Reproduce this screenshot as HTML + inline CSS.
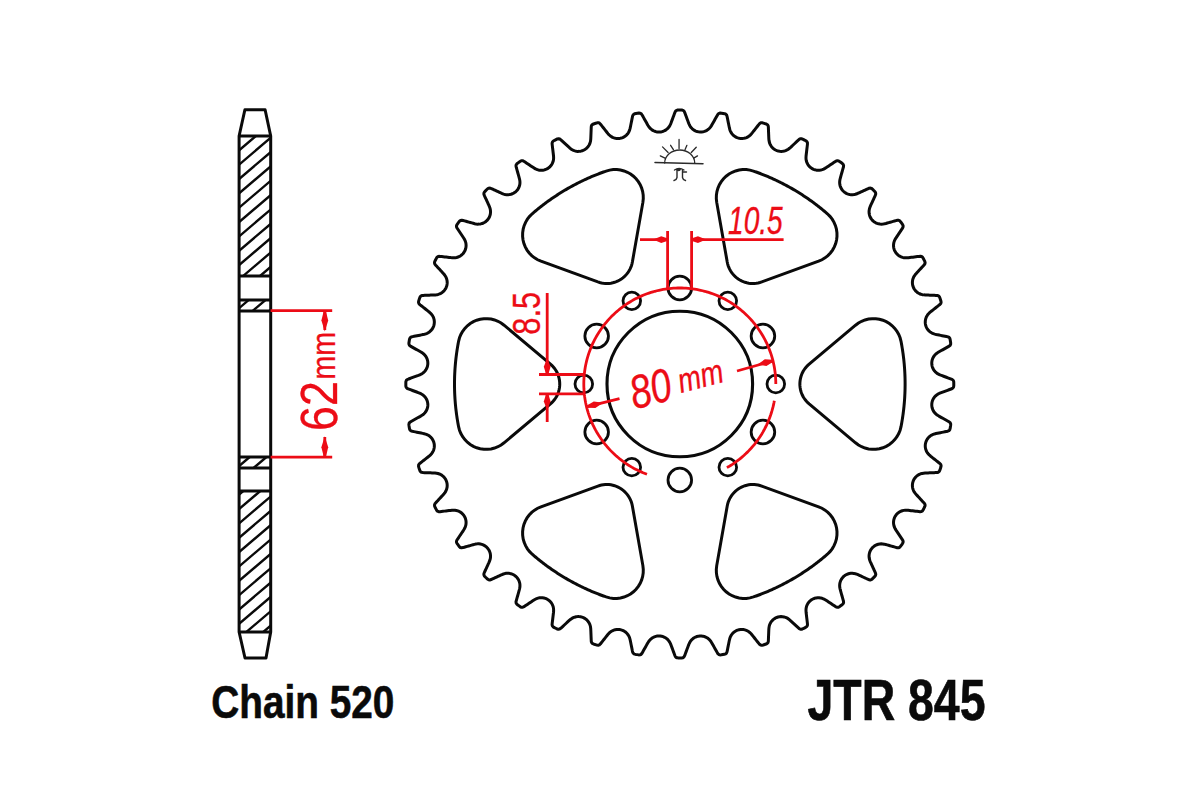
<!DOCTYPE html>
<html><head><meta charset="utf-8"><style>
html,body{margin:0;padding:0;background:#fff;}
body{width:1200px;height:800px;overflow:hidden;position:relative;font-family:"Liberation Sans",sans-serif;}
svg{position:absolute;left:0;top:0;}
</style></head><body>
<svg width="1200" height="800" viewBox="0 0 1200 800">
<defs>
<clipPath id="hc1"><rect x="239.1" y="136" width="31.599999999999994" height="140"/><rect x="239.1" y="300" width="31.599999999999994" height="11"/><rect x="239.1" y="457" width="31.599999999999994" height="11"/><rect x="239.1" y="491" width="31.599999999999994" height="141"/></clipPath>
</defs>
<rect width="1200" height="800" fill="#fff"/>
<g fill="#0a0a0a" stroke="#0a0a0a" stroke-width="0.6" font-family="Liberation Sans" font-weight="bold">
<text transform="translate(211.2,717.8) scale(0.832,1)" font-size="46.6">Chain 520</text>
<text transform="translate(807.5,719.6) scale(0.80,1)" font-size="58">JTR 845</text>
</g>
<!-- side profile -->
<path d="M229.1,-357.82L280.7,-401.74 M229.1,-343.47L280.7,-387.39 M229.1,-329.12L280.7,-373.04 M229.1,-314.77L280.7,-358.69 M229.1,-300.42L280.7,-344.34 M229.1,-286.07L280.7,-329.99 M229.1,-271.72L280.7,-315.64 M229.1,-257.37L280.7,-301.29 M229.1,-243.02L280.7,-286.94 M229.1,-228.67L280.7,-272.59 M229.1,-214.32L280.7,-258.24 M229.1,-199.97L280.7,-243.89 M229.1,-185.62L280.7,-229.54 M229.1,-171.27L280.7,-215.19 M229.1,-156.92L280.7,-200.84 M229.1,-142.57L280.7,-186.49 M229.1,-128.22L280.7,-172.14 M229.1,-113.87L280.7,-157.79 M229.1,-99.52L280.7,-143.44 M229.1,-85.17L280.7,-129.09 M229.1,-70.82L280.7,-114.74 M229.1,-56.47L280.7,-100.39 M229.1,-42.12L280.7,-86.04 M229.1,-27.77L280.7,-71.69 M229.1,-13.42L280.7,-57.34 M229.1,0.93L280.7,-42.99 M229.1,15.28L280.7,-28.64 M229.1,29.63L280.7,-14.29 M229.1,43.98L280.7,0.06 M229.1,58.33L280.7,14.41 M229.1,72.68L280.7,28.76 M229.1,87.03L280.7,43.11 M229.1,101.38L280.7,57.46 M229.1,115.73L280.7,71.81 M229.1,130.08L280.7,86.16 M229.1,144.43L280.7,100.51 M229.1,158.78L280.7,114.86 M229.1,173.13L280.7,129.21 M229.1,187.48L280.7,143.56 M229.1,201.83L280.7,157.91 M229.1,216.18L280.7,172.26 M229.1,230.53L280.7,186.61 M229.1,244.88L280.7,200.96 M229.1,259.23L280.7,215.31 M229.1,273.58L280.7,229.66 M229.1,287.93L280.7,244.01 M229.1,302.28L280.7,258.36 M229.1,316.63L280.7,272.71 M229.1,330.98L280.7,287.06 M229.1,345.33L280.7,301.41 M229.1,359.68L280.7,315.76 M229.1,374.03L280.7,330.11 M229.1,388.38L280.7,344.46 M229.1,402.73L280.7,358.81 M229.1,417.08L280.7,373.16 M229.1,431.43L280.7,387.51 M229.1,445.78L280.7,401.86 M229.1,460.13L280.7,416.21 M229.1,474.48L280.7,430.56 M229.1,488.83L280.7,444.91 M229.1,503.18L280.7,459.26 M229.1,517.53L280.7,473.61 M229.1,531.88L280.7,487.96 M229.1,546.23L280.7,502.31 M229.1,560.58L280.7,516.66 M229.1,574.93L280.7,531.01 M229.1,589.28L280.7,545.36 M229.1,603.63L280.7,559.71 M229.1,617.98L280.7,574.06 M229.1,632.33L280.7,588.41 M229.1,646.68L280.7,602.76 M229.1,661.03L280.7,617.11 M229.1,675.38L280.7,631.46 M229.1,689.73L280.7,645.81 M229.1,704.08L280.7,660.16 M229.1,718.43L280.7,674.51 M229.1,732.78L280.7,688.86 M229.1,747.13L280.7,703.21 M229.1,761.48L280.7,717.56 M229.1,775.83L280.7,731.91" stroke="#0a0a0a" stroke-width="2.4" fill="none" clip-path="url(#hc1)"/>
<path d="M244.90,109.75 L265.10,109.75 L270.70,136.00 L270.70,632.00 L266.00,658.00 L245.00,658.00 L239.10,632.00 L239.10,136.00Z" stroke="#0a0a0a" stroke-width="3.0" fill="none" stroke-linejoin="round"/>
<path d="M239.1,136H270.7 M239.1,276H270.7 M239.1,300H270.7 M239.1,311H270.7 M239.1,457H270.7 M239.1,468H270.7 M239.1,491H270.7 M239.1,632H270.7" stroke="#0a0a0a" stroke-width="2.8" fill="none"/>
<!-- gear -->
<path d="M676.16,110.55 L675.32,111.49 L674.76,112.84 L674.24,114.25 L673.72,115.66 L673.20,117.06 L672.68,118.47 L672.16,119.88 L671.64,121.29 L671.12,122.69 L670.56,124.08 L669.92,125.43 L669.15,126.71 L668.23,127.88 L667.18,128.94 L666.00,129.86 L664.73,130.63 L663.37,131.24 L661.95,131.68 L660.48,131.95 L658.99,132.04 L657.51,131.95 L656.04,131.68 L654.62,131.24 L653.26,130.62 L651.98,129.85 L650.81,128.93 L649.76,127.87 L648.84,126.70 L648.02,125.45 L647.27,124.15 L646.54,122.84 L645.80,121.53 L645.07,120.22 L644.33,118.92 L643.60,117.61 L642.87,116.30 L642.13,114.99 L641.32,113.84 L640.26,113.21 L638.95,113.09 L637.47,113.32 L635.99,113.55 L634.55,113.83 L633.45,114.47 L632.76,115.51 L632.41,116.93 L632.12,118.40 L631.82,119.88 L631.53,121.35 L631.24,122.82 L630.94,124.29 L630.65,125.76 L630.35,127.23 L630.02,128.69 L629.61,130.13 L629.05,131.51 L628.33,132.81 L627.46,134.02 L626.44,135.12 L625.31,136.08 L624.06,136.90 L622.73,137.57 L621.33,138.07 L619.87,138.39 L618.39,138.54 L616.90,138.51 L615.42,138.29 L613.98,137.90 L612.60,137.34 L611.30,136.62 L610.09,135.75 L608.99,134.74 L607.99,133.63 L607.04,132.47 L606.11,131.29 L605.18,130.11 L604.26,128.93 L603.33,127.76 L602.40,126.58 L601.47,125.40 L600.54,124.22 L599.56,123.21 L598.42,122.73 L597.11,122.81 L595.69,123.26 L594.26,123.72 L592.88,124.22 L591.88,125.01 L591.34,126.15 L591.22,127.60 L591.16,129.10 L591.10,130.59 L591.04,132.09 L590.98,133.59 L590.92,135.09 L590.86,136.59 L590.80,138.09 L590.70,139.58 L590.52,141.07 L590.18,142.52 L589.68,143.92 L589.01,145.26 L588.19,146.50 L587.22,147.63 L586.12,148.64 L584.91,149.51 L583.61,150.23 L582.22,150.78 L580.78,151.16 L579.31,151.37 L577.82,151.39 L576.33,151.24 L574.88,150.90 L573.48,150.40 L572.15,149.73 L570.90,148.90 L569.74,147.97 L568.62,146.97 L567.52,145.95 L566.41,144.94 L565.31,143.92 L564.21,142.90 L563.11,141.88 L562.01,140.86 L560.90,139.85 L559.78,138.99 L558.58,138.68 L557.30,138.95 L555.97,139.61 L554.63,140.29 L553.34,141.00 L552.47,141.93 L552.10,143.13 L552.19,144.57 L552.37,146.06 L552.54,147.55 L552.72,149.04 L552.90,150.53 L553.07,152.02 L553.25,153.51 L553.42,155.00 L553.56,156.49 L553.61,157.99 L553.52,159.48 L553.24,160.94 L552.80,162.36 L552.18,163.72 L551.41,164.99 L550.48,166.16 L549.43,167.22 L548.25,168.13 L546.97,168.90 L545.61,169.50 L544.19,169.94 L542.72,170.21 L541.23,170.29 L539.74,170.19 L538.28,169.92 L536.86,169.47 L535.50,168.85 L534.20,168.11 L532.94,167.30 L531.69,166.47 L530.44,165.64 L529.20,164.80 L527.95,163.97 L526.70,163.14 L525.45,162.31 L524.20,161.47 L522.96,160.79 L521.73,160.66 L520.50,161.11 L519.29,161.97 L518.08,162.85 L516.90,163.75 L516.18,164.80 L515.99,166.04 L516.30,167.45 L516.71,168.89 L517.11,170.34 L517.52,171.78 L517.93,173.22 L518.33,174.67 L518.74,176.11 L519.14,177.56 L519.52,179.01 L519.80,180.47 L519.95,181.96 L519.91,183.45 L519.70,184.92 L519.31,186.36 L518.74,187.74 L518.02,189.04 L517.14,190.25 L516.13,191.34 L514.99,192.30 L513.74,193.12 L512.41,193.78 L511.00,194.27 L509.54,194.59 L508.06,194.73 L506.57,194.69 L505.09,194.48 L503.66,194.09 L502.26,193.56 L500.88,192.96 L499.52,192.33 L498.16,191.71 L496.79,191.08 L495.43,190.45 L494.07,189.82 L492.71,189.20 L491.34,188.57 L490.01,188.08 L488.77,188.13 L487.62,188.75 L486.56,189.79 L485.50,190.85 L484.48,191.92 L483.91,193.06 L483.90,194.31 L484.42,195.66 L485.05,197.02 L485.68,198.38 L486.30,199.74 L486.93,201.11 L487.56,202.47 L488.18,203.83 L488.81,205.20 L489.41,206.57 L489.92,207.97 L490.30,209.42 L490.50,210.89 L490.53,212.38 L490.37,213.87 L490.04,215.32 L489.53,216.72 L488.86,218.05 L488.03,219.29 L487.06,220.42 L485.95,221.42 L484.74,222.29 L483.43,223.00 L482.04,223.55 L480.60,223.92 L479.13,224.12 L477.63,224.14 L476.15,223.99 L474.69,223.69 L473.24,223.31 L471.79,222.90 L470.35,222.50 L468.90,222.09 L467.46,221.69 L466.02,221.28 L464.57,220.87 L463.13,220.47 L461.73,220.19 L460.51,220.42 L459.47,221.19 L458.58,222.38 L457.70,223.59 L456.85,224.81 L456.45,226.03 L456.63,227.26 L457.34,228.51 L458.18,229.76 L459.01,231.00 L459.84,232.25 L460.67,233.50 L461.51,234.75 L462.34,235.99 L463.17,237.24 L463.98,238.51 L464.71,239.81 L465.31,241.17 L465.75,242.60 L466.01,244.07 L466.09,245.56 L465.99,247.04 L465.71,248.51 L465.26,249.93 L464.64,251.28 L463.86,252.55 L462.93,253.72 L461.87,254.77 L460.69,255.68 L459.41,256.44 L458.05,257.04 L456.62,257.47 L455.15,257.73 L453.66,257.81 L452.17,257.75 L450.68,257.61 L449.19,257.43 L447.70,257.26 L446.21,257.08 L444.72,256.91 L443.23,256.73 L441.74,256.55 L440.25,256.38 L438.82,256.31 L437.64,256.72 L436.73,257.63 L436.04,258.94 L435.36,260.28 L434.70,261.61 L434.49,262.88 L434.84,264.08 L435.73,265.20 L436.75,266.30 L437.77,267.40 L438.78,268.50 L439.80,269.60 L440.82,270.71 L441.84,271.81 L442.85,272.91 L443.85,274.03 L444.78,275.20 L445.59,276.45 L446.25,277.79 L446.74,279.20 L447.06,280.66 L447.20,282.14 L447.16,283.63 L446.94,285.10 L446.54,286.54 L445.97,287.92 L445.24,289.22 L444.36,290.42 L443.34,291.51 L442.20,292.46 L440.95,293.28 L439.61,293.93 L438.20,294.42 L436.75,294.74 L435.26,294.91 L433.76,295.00 L432.27,295.06 L430.77,295.12 L429.27,295.18 L427.77,295.24 L426.27,295.30 L424.77,295.36 L423.27,295.42 L421.84,295.57 L420.73,296.15 L419.97,297.18 L419.49,298.58 L419.02,300.00 L418.58,301.42 L418.56,302.72 L419.08,303.85 L420.12,304.82 L421.30,305.74 L422.48,306.67 L423.65,307.60 L424.83,308.53 L426.01,309.46 L427.19,310.39 L428.36,311.32 L429.52,312.27 L430.63,313.28 L431.63,314.39 L432.49,315.60 L433.20,316.91 L433.74,318.30 L434.12,319.74 L434.32,321.22 L434.33,322.71 L434.17,324.19 L433.83,325.64 L433.32,327.04 L432.64,328.37 L431.81,329.61 L430.83,330.73 L429.73,331.73 L428.51,332.59 L427.20,333.30 L425.81,333.85 L424.37,334.25 L422.91,334.58 L421.44,334.88 L419.97,335.17 L418.50,335.46 L417.02,335.76 L415.55,336.05 L414.08,336.34 L412.61,336.64 L411.22,337.00 L410.20,337.73 L409.60,338.86 L409.33,340.31 L409.10,341.80 L408.88,343.27 L409.05,344.56 L409.72,345.60 L410.90,346.39 L412.21,347.13 L413.52,347.86 L414.82,348.60 L416.13,349.33 L417.44,350.06 L418.75,350.80 L420.06,351.53 L421.35,352.29 L422.60,353.11 L423.76,354.04 L424.81,355.11 L425.72,356.29 L426.48,357.57 L427.08,358.93 L427.51,360.36 L427.76,361.83 L427.84,363.32 L427.74,364.80 L427.45,366.27 L427.00,367.69 L426.37,369.04 L425.59,370.31 L424.65,371.47 L423.59,372.51 L422.41,373.42 L421.12,374.18 L419.77,374.81 L418.38,375.36 L416.97,375.88 L415.56,376.40 L414.15,376.92 L412.75,377.44 L411.34,377.96 L409.93,378.48 L408.53,379.00 L407.20,379.58 L406.30,380.45 L405.87,381.65 L405.83,383.12 L405.83,384.62 L405.84,386.12 L406.19,387.37 L407.01,388.30 L408.29,388.91 L409.70,389.43 L411.11,389.95 L412.51,390.47 L413.92,390.99 L415.33,391.51 L416.73,392.03 L418.14,392.55 L419.54,393.09 L420.90,393.71 L422.20,394.44 L423.40,395.33 L424.49,396.35 L425.44,397.49 L426.25,398.74 L426.90,400.08 L427.39,401.49 L427.70,402.95 L427.84,404.43 L427.79,405.92 L427.56,407.40 L427.16,408.83 L426.59,410.21 L425.86,411.51 L424.97,412.71 L423.95,413.79 L422.80,414.74 L421.56,415.58 L420.27,416.35 L418.97,417.08 L417.66,417.81 L416.35,418.55 L415.04,419.28 L413.73,420.02 L412.43,420.75 L411.12,421.48 L409.89,422.25 L409.12,423.25 L408.87,424.50 L409.06,425.96 L409.29,427.44 L409.54,428.91 L410.07,430.11 L411.02,430.91 L412.37,431.32 L413.84,431.61 L415.31,431.90 L416.78,432.20 L418.25,432.49 L419.72,432.78 L421.19,433.08 L422.66,433.37 L424.13,433.69 L425.57,434.08 L426.97,434.60 L428.30,435.28 L429.53,436.11 L430.66,437.09 L431.66,438.20 L432.51,439.42 L433.22,440.73 L433.76,442.12 L434.13,443.56 L434.32,445.04 L434.33,446.53 L434.16,448.01 L433.82,449.46 L433.30,450.86 L432.62,452.18 L431.78,453.42 L430.80,454.54 L429.71,455.56 L428.56,456.52 L427.38,457.45 L426.21,458.38 L425.03,459.31 L423.85,460.24 L422.67,461.17 L421.50,462.10 L420.32,463.03 L419.21,463.98 L418.60,465.08 L418.54,466.35 L418.94,467.76 L419.41,469.18 L419.88,470.61 L420.58,471.71 L421.63,472.37 L423.02,472.57 L424.52,472.63 L426.02,472.69 L427.52,472.75 L429.02,472.81 L430.52,472.87 L432.02,472.93 L433.51,472.99 L435.01,473.07 L436.50,473.23 L437.96,473.52 L439.38,473.98 L440.73,474.60 L442.00,475.39 L443.16,476.32 L444.20,477.39 L445.11,478.57 L445.86,479.86 L446.46,481.23 L446.88,482.65 L447.13,484.12 L447.20,485.61 L447.09,487.10 L446.80,488.56 L446.34,489.98 L445.71,491.33 L444.92,492.59 L444.01,493.78 L443.02,494.90 L442.01,496.01 L440.99,497.11 L439.97,498.21 L438.95,499.31 L437.94,500.42 L436.92,501.52 L435.90,502.62 L434.95,503.73 L434.50,504.91 L434.62,506.17 L435.24,507.50 L435.92,508.84 L436.60,510.17 L437.47,511.17 L438.60,511.66 L440.00,511.65 L441.49,511.47 L442.98,511.30 L444.47,511.12 L445.96,510.95 L447.45,510.77 L448.94,510.60 L450.43,510.42 L451.92,510.27 L453.42,510.19 L454.91,510.24 L456.38,510.47 L457.81,510.87 L459.19,511.45 L460.49,512.18 L461.68,513.07 L462.77,514.10 L463.72,515.24 L464.52,516.50 L465.17,517.84 L465.65,519.25 L465.96,520.71 L466.08,522.20 L466.03,523.68 L465.80,525.16 L465.40,526.59 L464.82,527.97 L464.11,529.28 L463.31,530.55 L462.48,531.80 L461.65,533.04 L460.81,534.29 L459.98,535.54 L459.15,536.79 L458.31,538.04 L457.48,539.28 L456.71,540.53 L456.44,541.77 L456.74,542.99 L457.55,544.21 L458.43,545.42 L459.31,546.63 L460.32,547.50 L461.51,547.82 L462.89,547.60 L464.33,547.20 L465.77,546.79 L467.22,546.38 L468.66,545.98 L470.11,545.57 L471.55,545.16 L472.99,544.76 L474.44,544.37 L475.91,544.06 L477.39,543.87 L478.88,543.86 L480.36,544.03 L481.81,544.38 L483.20,544.90 L484.53,545.58 L485.76,546.42 L486.88,547.41 L487.88,548.52 L488.73,549.74 L489.43,551.05 L489.96,552.44 L490.33,553.89 L490.51,555.37 L490.52,556.86 L490.35,558.34 L490.00,559.79 L489.50,561.20 L488.91,562.58 L488.29,563.94 L487.66,565.30 L487.04,566.67 L486.41,568.03 L485.78,569.39 L485.15,570.75 L484.53,572.12 L483.95,573.47 L483.87,574.73 L484.34,575.90 L485.32,576.98 L486.38,578.04 L487.44,579.10 L488.57,579.81 L489.79,579.95 L491.12,579.54 L492.48,578.91 L493.84,578.28 L495.20,577.65 L496.57,577.03 L497.93,576.40 L499.29,575.77 L500.65,575.14 L502.02,574.54 L503.42,573.99 L504.85,573.58 L506.32,573.33 L507.81,573.26 L509.30,573.37 L510.76,573.66 L512.17,574.13 L513.52,574.76 L514.79,575.55 L515.95,576.49 L516.98,577.56 L517.88,578.75 L518.63,580.03 L519.22,581.40 L519.64,582.83 L519.89,584.30 L519.95,585.79 L519.84,587.28 L519.57,588.75 L519.21,590.20 L518.81,591.65 L518.40,593.09 L517.99,594.54 L517.59,595.98 L517.18,597.42 L516.77,598.87 L516.37,600.31 L516.01,601.74 L516.11,603.01 L516.74,604.09 L517.87,605.00 L519.09,605.88 L520.30,606.76 L521.52,607.30 L522.75,607.27 L524.00,606.67 L525.24,605.83 L526.49,605.00 L527.74,604.17 L528.99,603.33 L530.23,602.50 L531.48,601.67 L532.73,600.84 L533.99,600.02 L535.28,599.26 L536.63,598.63 L538.04,598.15 L539.50,597.84 L540.98,597.72 L542.47,597.77 L543.94,598.00 L545.38,598.41 L546.75,598.99 L548.04,599.73 L549.24,600.62 L550.32,601.65 L551.26,602.80 L552.06,604.06 L552.71,605.40 L553.18,606.82 L553.48,608.28 L553.61,609.76 L553.58,611.26 L553.45,612.75 L553.28,614.24 L553.10,615.73 L552.93,617.22 L552.75,618.71 L552.57,620.20 L552.40,621.69 L552.22,623.18 L552.09,624.65 L552.37,625.89 L553.16,626.87 L554.41,627.59 L555.74,628.27 L557.08,628.96 L558.37,629.31 L559.58,629.10 L560.72,628.32 L561.82,627.31 L562.92,626.29 L564.03,625.27 L565.13,624.25 L566.23,623.23 L567.33,622.22 L568.43,621.20 L569.55,620.20 L570.70,619.25 L571.93,618.40 L573.25,617.70 L574.64,617.17 L576.09,616.81 L577.57,616.62 L579.06,616.62 L580.54,616.79 L581.99,617.15 L583.38,617.67 L584.70,618.36 L585.93,619.20 L587.05,620.19 L588.04,621.30 L588.89,622.53 L589.58,623.85 L590.11,625.24 L590.47,626.69 L590.68,628.17 L590.78,629.66 L590.85,631.16 L590.91,632.66 L590.97,634.16 L591.03,635.66 L591.09,637.15 L591.15,638.65 L591.21,640.15 L591.30,641.63 L591.76,642.82 L592.68,643.67 L594.02,644.20 L595.45,644.66 L596.87,645.13 L598.21,645.29 L599.38,644.90 L600.38,643.97 L601.31,642.80 L602.24,641.62 L603.17,640.44 L604.10,639.26 L605.03,638.09 L605.96,636.91 L606.89,635.73 L607.83,634.56 L608.82,633.44 L609.90,632.41 L611.09,631.51 L612.38,630.76 L613.75,630.18 L615.18,629.76 L616.65,629.52 L618.14,629.45 L619.62,629.57 L621.09,629.87 L622.50,630.34 L623.85,630.97 L625.11,631.77 L626.26,632.71 L627.30,633.79 L628.19,634.98 L628.94,636.27 L629.52,637.64 L629.96,639.07 L630.30,640.52 L630.60,641.99 L630.90,643.47 L631.19,644.94 L631.48,646.41 L631.78,647.88 L632.07,649.35 L632.36,650.82 L632.68,652.27 L633.31,653.38 L634.34,654.09 L635.74,654.41 L637.23,654.64 L638.71,654.88 L640.06,654.84 L641.16,654.29 L642.01,653.23 L642.74,651.92 L643.48,650.61 L644.21,649.30 L644.95,647.99 L645.68,646.69 L646.41,645.38 L647.15,644.07 L647.89,642.77 L648.70,641.51 L649.60,640.32 L650.63,639.24 L651.78,638.30 L653.04,637.50 L654.39,636.86 L655.80,636.38 L657.26,636.08 L658.74,635.96 L660.23,636.02 L661.70,636.26 L663.14,636.67 L664.51,637.26 L665.80,638.00 L666.99,638.90 L668.06,639.93 L669.01,641.09 L669.80,642.35 L670.46,643.69 L671.03,645.07 L671.55,646.48 L672.07,647.89 L672.59,649.29 L673.11,650.70 L673.63,652.11 L674.15,653.51 L674.67,654.92 L675.21,656.30 L676.00,657.32 L677.12,657.87 L678.55,657.97 L680.05,657.97 L681.55,657.97 L682.89,657.74 L683.90,657.03 L684.58,655.86 L685.10,654.45 L685.62,653.05 L686.14,651.64 L686.66,650.23 L687.18,648.82 L687.70,647.42 L688.22,646.01 L688.75,644.61 L689.35,643.23 L690.05,641.92 L690.89,640.69 L691.88,639.57 L693.00,638.59 L694.22,637.74 L695.54,637.04 L696.93,636.52 L698.38,636.16 L699.86,635.98 L701.35,635.98 L702.83,636.16 L704.28,636.52 L705.67,637.05 L706.99,637.75 L708.22,638.59 L709.33,639.58 L710.32,640.70 L711.18,641.92 L711.96,643.20 L712.70,644.51 L713.43,645.81 L714.16,647.12 L714.90,648.43 L715.63,649.74 L716.37,651.05 L717.10,652.36 L717.85,653.64 L718.78,654.53 L719.96,654.91 L721.39,654.80 L722.87,654.56 L724.35,654.33 L725.64,653.90 L726.54,653.06 L727.04,651.80 L727.34,650.33 L727.63,648.86 L727.92,647.39 L728.22,645.92 L728.51,644.45 L728.80,642.98 L729.10,641.50 L729.40,640.04 L729.77,638.59 L730.25,637.17 L730.89,635.83 L731.69,634.57 L732.63,633.41 L733.71,632.38 L734.90,631.49 L736.19,630.74 L737.56,630.16 L739.00,629.75 L740.47,629.51 L741.96,629.45 L743.44,629.58 L744.90,629.88 L746.32,630.35 L747.66,631.00 L748.92,631.80 L750.07,632.74 L751.12,633.81 L752.09,634.95 L753.02,636.12 L753.95,637.30 L754.88,638.48 L755.81,639.65 L756.74,640.83 L757.67,642.01 L758.60,643.19 L759.53,644.34 L760.59,645.09 L761.82,645.29 L763.20,644.97 L764.63,644.51 L766.05,644.04 L767.28,643.43 L768.04,642.46 L768.35,641.15 L768.41,639.65 L768.47,638.15 L768.53,636.66 L768.59,635.16 L768.65,633.66 L768.71,632.16 L768.77,630.66 L768.84,629.16 L768.98,627.67 L769.23,626.20 L769.65,624.77 L770.23,623.40 L770.98,622.11 L771.88,620.92 L772.91,619.85 L774.07,618.91 L775.33,618.11 L776.68,617.48 L778.09,617.01 L779.55,616.71 L781.04,616.60 L782.53,616.66 L784.00,616.91 L785.43,617.33 L786.80,617.92 L788.09,618.67 L789.29,619.55 L790.43,620.53 L791.53,621.54 L792.63,622.56 L793.74,623.57 L794.84,624.59 L795.94,625.61 L797.04,626.63 L798.15,627.64 L799.25,628.64 L800.41,629.23 L801.65,629.26 L802.97,628.73 L804.30,628.05 L805.64,627.37 L806.76,626.57 L807.38,625.51 L807.49,624.17 L807.32,622.68 L807.14,621.19 L806.97,619.70 L806.79,618.21 L806.62,616.72 L806.44,615.23 L806.27,613.74 L806.10,612.25 L806.00,610.76 L806.02,609.27 L806.20,607.79 L806.56,606.34 L807.09,604.95 L807.79,603.63 L808.64,602.41 L809.63,601.29 L810.75,600.31 L811.98,599.47 L813.30,598.78 L814.69,598.25 L816.14,597.90 L817.62,597.73 L819.11,597.74 L820.59,597.92 L822.04,598.29 L823.43,598.82 L824.76,599.51 L826.03,600.29 L827.29,601.11 L828.53,601.95 L829.78,602.78 L831.03,603.61 L832.28,604.44 L833.52,605.28 L834.77,606.11 L836.02,606.93 L837.26,607.34 L838.49,607.19 L839.70,606.47 L840.92,605.59 L842.13,604.71 L843.13,603.75 L843.59,602.61 L843.50,601.27 L843.10,599.83 L842.69,598.39 L842.28,596.94 L841.88,595.50 L841.47,594.05 L841.06,592.61 L840.66,591.17 L840.26,589.72 L839.92,588.26 L839.70,586.79 L839.65,585.30 L839.77,583.81 L840.08,582.35 L840.55,580.94 L841.20,579.60 L842.00,578.34 L842.95,577.19 L844.03,576.16 L845.22,575.27 L846.52,574.53 L847.89,573.95 L849.32,573.55 L850.80,573.32 L852.29,573.26 L853.77,573.39 L855.23,573.70 L856.65,574.16 L858.03,574.73 L859.40,575.35 L860.76,575.98 L862.12,576.61 L863.49,577.24 L864.85,577.86 L866.21,578.49 L867.58,579.12 L868.94,579.74 L870.23,579.97 L871.42,579.63 L872.51,578.74 L873.57,577.68 L874.63,576.62 L875.48,575.52 L875.77,574.32 L875.49,573.02 L874.87,571.66 L874.24,570.30 L873.61,568.94 L872.98,567.57 L872.36,566.21 L871.73,564.85 L871.10,563.49 L870.48,562.12 L869.92,560.73 L869.47,559.31 L869.18,557.85 L869.06,556.36 L869.13,554.87 L869.37,553.40 L869.80,551.97 L870.39,550.61 L871.14,549.32 L872.04,548.13 L873.08,547.06 L874.24,546.13 L875.50,545.34 L876.85,544.71 L878.27,544.24 L879.73,543.96 L881.22,543.85 L882.71,543.92 L884.18,544.15 L885.64,544.49 L887.09,544.89 L888.53,545.30 L889.97,545.70 L891.42,546.11 L892.86,546.52 L894.31,546.92 L895.75,547.33 L897.19,547.73 L898.51,547.77 L899.64,547.27 L900.58,546.23 L901.46,545.02 L902.34,543.80 L903.02,542.58 L903.14,541.36 L902.67,540.12 L901.84,538.87 L901.01,537.62 L900.18,536.37 L899.34,535.12 L898.51,533.88 L897.68,532.63 L896.84,531.38 L896.02,530.13 L895.24,528.85 L894.57,527.52 L894.05,526.12 L893.70,524.67 L893.53,523.19 L893.54,521.70 L893.73,520.22 L894.09,518.78 L894.63,517.39 L895.33,516.07 L896.18,514.85 L897.18,513.74 L898.30,512.76 L899.54,511.92 L900.86,511.24 L902.26,510.72 L903.71,510.38 L905.19,510.21 L906.68,510.20 L908.18,510.31 L909.67,510.48 L911.16,510.66 L912.65,510.83 L914.14,511.01 L915.63,511.18 L917.12,511.36 L918.60,511.53 L920.09,511.71 L921.41,511.55 L922.45,510.89 L923.22,509.73 L923.90,508.39 L924.58,507.05 L925.08,505.74 L925.01,504.51 L924.38,503.36 L923.36,502.25 L922.34,501.15 L921.32,500.05 L920.31,498.95 L919.29,497.85 L918.27,496.74 L917.25,495.64 L916.24,494.53 L915.27,493.39 L914.40,492.18 L913.66,490.89 L913.09,489.51 L912.68,488.08 L912.45,486.61 L912.40,485.12 L912.53,483.63 L912.84,482.17 L913.32,480.76 L913.97,479.42 L914.78,478.17 L915.73,477.02 L916.81,476.00 L918.01,475.11 L919.31,474.38 L920.69,473.81 L922.12,473.40 L923.59,473.16 L925.09,473.04 L926.58,472.97 L928.08,472.91 L929.58,472.85 L931.08,472.79 L932.58,472.73 L934.08,472.67 L935.58,472.61 L937.08,472.55 L938.36,472.20 L939.29,471.40 L939.88,470.14 L940.35,468.71 L940.81,467.28 L941.10,465.91 L940.86,464.70 L940.06,463.65 L938.89,462.72 L937.71,461.79 L936.53,460.86 L935.36,459.93 L934.18,459.00 L933.00,458.07 L931.82,457.14 L930.65,456.21 L929.52,455.23 L928.46,454.18 L927.52,453.02 L926.74,451.75 L926.11,450.40 L925.65,448.98 L925.36,447.52 L925.25,446.03 L925.32,444.55 L925.58,443.08 L926.00,441.65 L926.60,440.28 L927.36,439.00 L928.26,437.82 L929.30,436.75 L930.47,435.82 L931.74,435.03 L933.09,434.41 L934.50,433.94 L935.96,433.58 L937.43,433.27 L938.90,432.98 L940.37,432.68 L941.84,432.39 L943.31,432.10 L944.78,431.80 L946.25,431.51 L947.72,431.22 L948.94,430.68 L949.75,429.75 L950.15,428.43 L950.38,426.95 L950.62,425.46 L950.70,424.06 L950.28,422.89 L949.35,421.98 L948.05,421.24 L946.74,420.51 L945.43,419.77 L944.12,419.04 L942.81,418.30 L941.50,417.57 L940.20,416.84 L938.89,416.10 L937.62,415.31 L936.40,414.44 L935.30,413.44 L934.32,412.32 L933.48,411.08 L932.80,409.76 L932.29,408.36 L931.94,406.91 L931.78,405.43 L931.79,403.94 L931.98,402.46 L932.35,401.02 L932.90,399.63 L933.60,398.32 L934.46,397.10 L935.46,395.99 L936.59,395.02 L937.82,394.18 L939.15,393.49 L940.52,392.91 L941.93,392.38 L943.33,391.86 L944.74,391.34 L946.15,390.82 L947.56,390.30 L948.96,389.78 L950.37,389.26 L951.78,388.74 L952.91,388.03 L953.58,386.99 L953.77,385.63 L953.77,384.13 L953.77,382.63 L953.64,381.22 L953.05,380.12 L952.00,379.36 L950.60,378.83 L949.20,378.31 L947.79,377.79 L946.38,377.27 L944.98,376.75 L943.57,376.23 L942.16,375.71 L940.76,375.18 L939.37,374.61 L938.04,373.94 L936.79,373.13 L935.64,372.18 L934.62,371.09 L933.74,369.89 L933.00,368.60 L932.43,367.22 L932.03,365.78 L931.81,364.31 L931.77,362.82 L931.90,361.34 L932.21,359.88 L932.70,358.47 L933.36,357.13 L934.17,355.88 L935.12,354.74 L936.21,353.72 L937.41,352.83 L938.68,352.03 L939.98,351.29 L941.29,350.55 L942.59,349.82 L943.90,349.08 L945.21,348.35 L946.52,347.62 L947.83,346.88 L949.14,346.15 L950.16,345.28 L950.67,344.16 L950.66,342.78 L950.42,341.30 L950.19,339.82 L949.85,338.44 L949.11,337.45 L947.96,336.85 L946.50,336.54 L945.03,336.24 L943.56,335.95 L942.09,335.66 L940.61,335.36 L939.14,335.07 L937.67,334.78 L936.20,334.48 L934.75,334.13 L933.32,333.68 L931.96,333.08 L930.67,332.32 L929.49,331.42 L928.43,330.37 L927.50,329.21 L926.71,327.94 L926.09,326.58 L925.64,325.17 L925.35,323.70 L925.25,322.22 L925.33,320.73 L925.59,319.26 L926.02,317.83 L926.62,316.47 L927.38,315.19 L928.29,314.01 L929.33,312.94 L930.46,311.95 L931.63,311.01 L932.81,310.08 L933.98,309.15 L935.16,308.22 L936.34,307.29 L937.52,306.36 L938.69,305.44 L939.87,304.51 L940.76,303.49 L941.10,302.30 L940.89,300.96 L940.42,299.53 L939.96,298.10 L939.41,296.79 L938.53,295.91 L937.31,295.48 L935.83,295.40 L934.33,295.34 L932.83,295.28 L931.33,295.22 L929.83,295.16 L928.33,295.10 L926.84,295.04 L925.34,294.98 L923.84,294.87 L922.37,294.65 L920.92,294.27 L919.53,293.73 L918.22,293.02 L917.01,292.16 L915.90,291.16 L914.93,290.03 L914.10,288.80 L913.42,287.47 L912.91,286.07 L912.57,284.62 L912.41,283.13 L912.43,281.64 L912.63,280.17 L913.01,278.72 L913.55,277.34 L914.27,276.03 L915.12,274.81 L916.08,273.65 L917.08,272.54 L918.10,271.44 L919.12,270.34 L920.14,269.24 L921.15,268.13 L922.17,267.03 L923.19,265.93 L924.21,264.83 L924.94,263.69 L925.10,262.47 L924.70,261.17 L924.02,259.83 L923.34,258.50 L922.59,257.27 L921.60,256.53 L920.33,256.29 L918.85,256.44 L917.36,256.61 L915.87,256.79 L914.38,256.96 L912.89,257.14 L911.40,257.32 L909.92,257.49 L908.42,257.66 L906.93,257.78 L905.44,257.80 L903.95,257.66 L902.50,257.35 L901.09,256.86 L899.75,256.20 L898.50,255.39 L897.36,254.43 L896.34,253.34 L895.46,252.14 L894.74,250.84 L894.17,249.46 L893.78,248.02 L893.56,246.55 L893.52,245.06 L893.66,243.58 L893.98,242.12 L894.47,240.71 L895.12,239.37 L895.89,238.08 L896.71,236.83 L897.54,235.58 L898.37,234.33 L899.20,233.08 L900.04,231.84 L900.87,230.59 L901.70,229.34 L902.53,228.09 L903.09,226.85 L903.08,225.62 L902.49,224.40 L901.61,223.19 L900.73,221.97 L899.81,220.87 L898.71,220.28 L897.42,220.23 L895.99,220.60 L894.55,221.01 L893.10,221.41 L891.66,221.82 L890.22,222.23 L888.77,222.63 L887.33,223.04 L885.88,223.44 L884.43,223.80 L882.96,224.06 L881.47,224.15 L879.98,224.07 L878.51,223.82 L877.09,223.38 L875.72,222.78 L874.44,222.01 L873.27,221.10 L872.20,220.06 L871.28,218.89 L870.50,217.62 L869.88,216.26 L869.43,214.84 L869.16,213.37 L869.06,211.89 L869.14,210.40 L869.41,208.93 L869.84,207.50 L870.38,206.11 L871.00,204.74 L871.62,203.38 L872.25,202.02 L872.88,200.65 L873.51,199.29 L874.13,197.93 L874.76,196.57 L875.39,195.20 L875.76,193.89 L875.56,192.67 L874.81,191.56 L873.75,190.49 L872.69,189.43 L871.61,188.48 L870.43,188.05 L869.16,188.19 L867.80,188.78 L866.44,189.41 L865.08,190.03 L863.71,190.66 L862.35,191.29 L860.99,191.91 L859.63,192.54 L858.26,193.16 L856.88,193.75 L855.47,194.23 L854.02,194.57 L852.54,194.73 L851.04,194.71 L849.57,194.50 L848.13,194.13 L846.74,193.58 L845.43,192.86 L844.22,192.00 L843.12,190.99 L842.15,189.86 L841.32,188.62 L840.65,187.29 L840.14,185.89 L839.81,184.44 L839.66,182.95 L839.68,181.46 L839.88,179.98 L840.20,178.52 L840.59,177.07 L841.00,175.63 L841.40,174.19 L841.81,172.74 L842.22,171.30 L842.62,169.85 L843.03,168.41 L843.44,166.97 L843.61,165.60 L843.24,164.43 L842.33,163.44 L841.12,162.56 L839.91,161.68 L838.69,160.90 L837.46,160.64 L836.23,160.96 L834.98,161.75 L833.73,162.58 L832.48,163.42 L831.24,164.25 L829.99,165.08 L828.74,165.91 L827.49,166.75 L826.24,167.58 L824.97,168.37 L823.65,169.07 L822.27,169.64 L820.84,170.03 L819.36,170.24 L817.87,170.28 L816.39,170.14 L814.93,169.82 L813.53,169.32 L812.19,168.66 L810.95,167.84 L809.81,166.88 L808.79,165.79 L807.92,164.58 L807.20,163.28 L806.63,161.90 L806.25,160.46 L806.03,158.98 L805.99,157.49 L806.08,156.00 L806.24,154.51 L806.41,153.02 L806.59,151.53 L806.76,150.04 L806.94,148.55 L807.11,147.06 L807.29,145.57 L807.46,144.08 L807.43,142.70 L806.90,141.59 L805.86,140.75 L804.53,140.07 L803.19,139.39 L801.87,138.80 L800.61,138.72 L799.44,139.22 L798.33,140.19 L797.23,141.20 L796.13,142.22 L795.02,143.24 L793.92,144.26 L792.82,145.27 L791.72,146.29 L790.61,147.31 L789.48,148.29 L788.29,149.19 L787.02,149.97 L785.66,150.59 L784.24,151.04 L782.78,151.31 L781.29,151.40 L779.80,151.32 L778.33,151.05 L776.91,150.61 L775.55,150.00 L774.27,149.24 L773.10,148.32 L772.04,147.27 L771.12,146.10 L770.35,144.82 L769.73,143.46 L769.29,142.04 L769.01,140.58 L768.86,139.09 L768.78,137.59 L768.72,136.09 L768.66,134.59 L768.60,133.09 L768.54,131.59 L768.48,130.10 L768.42,128.60 L768.36,127.10 L768.13,125.73 L767.44,124.71 L766.29,124.03 L764.87,123.57 L763.44,123.11 L762.04,122.72 L760.78,122.83 L759.70,123.49 L758.75,124.62 L757.82,125.79 L756.89,126.97 L755.96,128.15 L755.04,129.33 L754.11,130.50 L753.18,131.68 L752.24,132.86 L751.28,134.01 L750.25,135.09 L749.12,136.06 L747.88,136.88 L746.55,137.55 L745.14,138.05 L743.69,138.38 L742.21,138.54 L740.72,138.51 L739.24,138.30 L737.80,137.92 L736.42,137.36 L735.11,136.65 L733.90,135.78 L732.80,134.77 L731.84,133.63 L731.02,132.39 L730.35,131.06 L729.84,129.65 L729.46,128.21 L729.15,126.74 L728.85,125.27 L728.56,123.80 L728.26,122.33 L727.97,120.86 L727.68,119.39 L727.38,117.91 L727.09,116.44 L726.66,115.12 L725.82,114.21 L724.60,113.71 L723.12,113.47 L721.63,113.24 L720.18,113.07 L718.96,113.36 L717.98,114.17 L717.22,115.43 L716.49,116.73 L715.75,118.04 L715.02,119.35 L714.29,120.66 L713.55,121.97 L712.82,123.28 L712.08,124.58 L711.32,125.87 L710.47,127.10 L709.50,128.24 L708.41,129.25 L707.20,130.12 L705.90,130.84 L704.52,131.40 L703.08,131.79 L701.60,132.00 L700.11,132.03 L698.63,131.88 L697.17,131.55 L695.77,131.05 L694.44,130.39 L693.19,129.57 L692.06,128.60 L691.05,127.50 L690.18,126.29 L689.45,124.99 L688.85,123.62 L688.31,122.22 L687.79,120.82 L687.27,119.41 L686.75,118.00 L686.23,116.60 L685.71,115.19 L685.19,113.78 L684.67,112.37 L684.04,111.12 L683.08,110.34 L681.80,110.03 L680.30,110.03 L678.80,110.03 L677.34,110.08Z" stroke="#0a0a0a" stroke-width="3.0" fill="none" stroke-linejoin="round"/>
<path d="M799.87,384.00 L799.94,385.89 L800.15,387.77 L800.49,389.63 L800.97,391.46 L801.57,393.25 L802.31,394.99 L803.17,396.67 L804.15,398.29 L805.25,399.83 L806.45,401.28 L807.76,402.65 L809.16,403.92 L855.53,442.82 L855.53,442.82 L858.46,444.98 L861.64,446.73 L865.03,448.05 L868.55,448.93 L872.17,449.34 L875.80,449.28 L879.40,448.75 L882.89,447.76 L886.23,446.33 L889.36,444.47 L892.22,442.23 L894.76,439.63 L896.94,436.73 L898.74,433.56 L900.10,430.20 L901.02,426.68 L901.02,426.68 L901.29,425.27 L901.54,423.87 L901.79,422.46 L902.03,421.05 L902.26,419.63 L902.49,418.22 L902.70,416.80 L902.90,415.39 L903.10,413.97 L903.28,412.55 L903.46,411.13 L903.63,409.71 L903.79,408.29 L903.94,406.86 L904.08,405.44 L904.21,404.01 L904.33,402.59 L904.45,401.16 L904.55,399.73 L904.65,398.30 L904.73,396.87 L904.81,395.45 L904.88,394.02 L904.94,392.59 L904.99,391.16 L905.03,389.72 L905.06,388.29 L905.08,386.86 L905.10,385.43 L905.10,384.00 L905.10,382.57 L905.08,381.14 L905.06,379.71 L905.03,378.28 L904.99,376.84 L904.94,375.41 L904.88,373.98 L904.81,372.55 L904.73,371.13 L904.65,369.70 L904.55,368.27 L904.45,366.84 L904.33,365.41 L904.21,363.99 L904.08,362.56 L903.94,361.14 L903.79,359.71 L903.63,358.29 L903.46,356.87 L903.28,355.45 L903.10,354.03 L902.90,352.61 L902.70,351.20 L902.49,349.78 L902.26,348.37 L902.03,346.95 L901.79,345.54 L901.54,344.13 L901.29,342.73 L901.02,341.32 L901.02,341.32 L900.10,337.80 L898.74,334.44 L896.94,331.27 L894.76,328.37 L892.22,325.77 L889.36,323.53 L886.23,321.67 L882.89,320.24 L879.40,319.25 L875.80,318.72 L872.17,318.66 L868.55,319.07 L865.03,319.95 L861.64,321.27 L858.46,323.02 L855.53,325.18 L855.53,325.18 L809.16,364.08 L807.76,365.35 L806.45,366.72 L805.25,368.17 L804.15,369.71 L803.17,371.33 L802.31,373.01 L801.57,374.75 L800.97,376.54 L800.49,378.37 L800.15,380.23 L799.94,382.11 L799.87,384.00Z M739.84,280.01 L741.51,280.90 L743.24,281.66 L745.02,282.29 L746.84,282.80 L748.69,283.16 L750.57,283.40 L752.46,283.49 L754.35,283.45 L756.23,283.27 L758.09,282.96 L759.93,282.51 L761.73,281.93 L818.61,261.23 L818.61,261.23 L821.94,259.76 L825.05,257.88 L827.89,255.62 L830.41,253.00 L832.57,250.08 L834.34,246.90 L835.68,243.52 L836.57,240.00 L836.99,236.39 L836.95,232.75 L836.43,229.16 L835.46,225.66 L834.03,222.31 L832.19,219.18 L829.96,216.31 L827.37,213.76 L827.37,213.76 L826.29,212.82 L825.20,211.90 L824.10,210.98 L823.00,210.06 L821.89,209.16 L820.78,208.26 L819.66,207.37 L818.53,206.48 L817.40,205.60 L816.27,204.73 L815.12,203.87 L813.98,203.01 L812.83,202.16 L811.67,201.32 L810.50,200.49 L809.34,199.66 L808.16,198.84 L806.98,198.03 L805.80,197.23 L804.61,196.43 L803.42,195.64 L802.22,194.86 L801.01,194.09 L799.80,193.32 L798.59,192.56 L797.37,191.81 L796.15,191.07 L794.92,190.33 L793.69,189.60 L792.45,188.88 L791.21,188.17 L789.96,187.47 L788.71,186.77 L787.46,186.09 L786.20,185.41 L784.93,184.73 L783.66,184.07 L782.39,183.41 L781.12,182.77 L779.84,182.13 L778.55,181.49 L777.26,180.87 L775.97,180.26 L774.67,179.65 L773.37,179.05 L772.07,178.46 L770.76,177.88 L769.45,177.31 L768.14,176.74 L766.82,176.18 L765.50,175.63 L764.17,175.09 L762.84,174.56 L761.51,174.04 L760.17,173.52 L758.83,173.02 L757.49,172.52 L756.15,172.03 L754.80,171.55 L753.45,171.08 L753.45,171.08 L749.94,170.11 L746.34,169.61 L742.71,169.58 L739.10,170.03 L735.58,170.93 L732.21,172.28 L729.04,174.06 L726.13,176.24 L723.52,178.77 L721.26,181.62 L719.39,184.74 L717.95,188.07 L716.94,191.56 L716.40,195.15 L716.32,198.79 L716.72,202.40 L716.72,202.40 L727.23,262.01 L727.63,263.86 L728.16,265.67 L728.82,267.45 L729.60,269.17 L730.51,270.82 L731.54,272.41 L732.68,273.92 L733.93,275.34 L735.27,276.67 L736.71,277.89 L738.24,279.01 L739.84,280.01Z M619.76,280.01 L621.36,279.01 L622.89,277.89 L624.33,276.67 L625.67,275.34 L626.92,273.92 L628.06,272.41 L629.09,270.82 L630.00,269.17 L630.78,267.45 L631.44,265.67 L631.97,263.86 L632.37,262.01 L642.88,202.40 L642.88,202.40 L643.28,198.79 L643.20,195.15 L642.66,191.56 L641.65,188.07 L640.21,184.74 L638.34,181.62 L636.08,178.77 L633.47,176.24 L630.56,174.06 L627.39,172.28 L624.02,170.93 L620.50,170.03 L616.89,169.58 L613.26,169.61 L609.66,170.11 L606.15,171.08 L606.15,171.08 L604.80,171.55 L603.45,172.03 L602.11,172.52 L600.77,173.02 L599.43,173.52 L598.09,174.04 L596.76,174.56 L595.43,175.09 L594.10,175.63 L592.78,176.18 L591.46,176.74 L590.15,177.31 L588.84,177.88 L587.53,178.46 L586.23,179.05 L584.93,179.65 L583.63,180.26 L582.34,180.87 L581.05,181.49 L579.76,182.13 L578.48,182.77 L577.21,183.41 L575.94,184.07 L574.67,184.73 L573.40,185.41 L572.14,186.09 L570.89,186.77 L569.64,187.47 L568.39,188.17 L567.15,188.88 L565.91,189.60 L564.68,190.33 L563.45,191.07 L562.23,191.81 L561.01,192.56 L559.80,193.32 L558.59,194.09 L557.38,194.86 L556.18,195.64 L554.99,196.43 L553.80,197.23 L552.62,198.03 L551.44,198.84 L550.26,199.66 L549.10,200.49 L547.93,201.32 L546.77,202.16 L545.62,203.01 L544.48,203.87 L543.33,204.73 L542.20,205.60 L541.07,206.48 L539.94,207.37 L538.82,208.26 L537.71,209.16 L536.60,210.06 L535.50,210.98 L534.40,211.90 L533.31,212.82 L532.23,213.76 L532.23,213.76 L529.64,216.31 L527.41,219.18 L525.57,222.31 L524.14,225.66 L523.17,229.16 L522.65,232.75 L522.61,236.39 L523.03,240.00 L523.92,243.52 L525.26,246.90 L527.03,250.08 L529.19,253.00 L531.71,255.62 L534.55,257.88 L537.66,259.76 L540.99,261.23 L540.99,261.23 L597.87,281.93 L599.67,282.51 L601.51,282.96 L603.37,283.27 L605.25,283.45 L607.14,283.49 L609.03,283.40 L610.91,283.16 L612.76,282.80 L614.58,282.29 L616.36,281.66 L618.09,280.90 L619.76,280.01Z M559.73,384.00 L559.66,382.11 L559.45,380.23 L559.11,378.37 L558.63,376.54 L558.03,374.75 L557.29,373.01 L556.43,371.33 L555.45,369.71 L554.35,368.17 L553.15,366.72 L551.84,365.35 L550.44,364.08 L504.07,325.18 L504.07,325.18 L501.14,323.02 L497.96,321.27 L494.57,319.95 L491.05,319.07 L487.43,318.66 L483.80,318.72 L480.20,319.25 L476.71,320.24 L473.37,321.67 L470.24,323.53 L467.38,325.77 L464.84,328.37 L462.66,331.27 L460.86,334.44 L459.50,337.80 L458.58,341.32 L458.58,341.32 L458.31,342.73 L458.06,344.13 L457.81,345.54 L457.57,346.95 L457.34,348.37 L457.11,349.78 L456.90,351.20 L456.70,352.61 L456.50,354.03 L456.32,355.45 L456.14,356.87 L455.97,358.29 L455.81,359.71 L455.66,361.14 L455.52,362.56 L455.39,363.99 L455.27,365.41 L455.15,366.84 L455.05,368.27 L454.95,369.70 L454.87,371.13 L454.79,372.55 L454.72,373.98 L454.66,375.41 L454.61,376.84 L454.57,378.28 L454.54,379.71 L454.52,381.14 L454.50,382.57 L454.50,384.00 L454.50,385.43 L454.52,386.86 L454.54,388.29 L454.57,389.72 L454.61,391.16 L454.66,392.59 L454.72,394.02 L454.79,395.45 L454.87,396.87 L454.95,398.30 L455.05,399.73 L455.15,401.16 L455.27,402.59 L455.39,404.01 L455.52,405.44 L455.66,406.86 L455.81,408.29 L455.97,409.71 L456.14,411.13 L456.32,412.55 L456.50,413.97 L456.70,415.39 L456.90,416.80 L457.11,418.22 L457.34,419.63 L457.57,421.05 L457.81,422.46 L458.06,423.87 L458.31,425.27 L458.58,426.68 L458.58,426.68 L459.50,430.20 L460.86,433.56 L462.66,436.73 L464.84,439.63 L467.38,442.23 L470.24,444.47 L473.37,446.33 L476.71,447.76 L480.20,448.75 L483.80,449.28 L487.43,449.34 L491.05,448.93 L494.57,448.05 L497.96,446.73 L501.14,444.98 L504.07,442.82 L504.07,442.82 L550.44,403.92 L551.84,402.65 L553.15,401.28 L554.35,399.83 L555.45,398.29 L556.43,396.67 L557.29,394.99 L558.03,393.25 L558.63,391.46 L559.11,389.63 L559.45,387.77 L559.66,385.89 L559.73,384.00Z M619.76,487.99 L618.09,487.10 L616.36,486.34 L614.58,485.71 L612.76,485.20 L610.91,484.84 L609.03,484.60 L607.14,484.51 L605.25,484.55 L603.37,484.73 L601.51,485.04 L599.67,485.49 L597.87,486.07 L540.99,506.77 L540.99,506.77 L537.66,508.24 L534.55,510.12 L531.71,512.38 L529.19,515.00 L527.03,517.92 L525.26,521.10 L523.92,524.48 L523.03,528.00 L522.61,531.61 L522.65,535.25 L523.17,538.84 L524.14,542.34 L525.57,545.69 L527.41,548.82 L529.64,551.69 L532.23,554.24 L532.23,554.24 L533.31,555.18 L534.40,556.10 L535.50,557.02 L536.60,557.94 L537.71,558.84 L538.82,559.74 L539.94,560.63 L541.07,561.52 L542.20,562.40 L543.33,563.27 L544.48,564.13 L545.62,564.99 L546.77,565.84 L547.93,566.68 L549.10,567.51 L550.26,568.34 L551.44,569.16 L552.62,569.97 L553.80,570.77 L554.99,571.57 L556.18,572.36 L557.38,573.14 L558.59,573.91 L559.80,574.68 L561.01,575.44 L562.23,576.19 L563.45,576.93 L564.68,577.67 L565.91,578.40 L567.15,579.12 L568.39,579.83 L569.64,580.53 L570.89,581.23 L572.14,581.91 L573.40,582.59 L574.67,583.27 L575.94,583.93 L577.21,584.59 L578.48,585.23 L579.76,585.87 L581.05,586.51 L582.34,587.13 L583.63,587.74 L584.93,588.35 L586.23,588.95 L587.53,589.54 L588.84,590.12 L590.15,590.69 L591.46,591.26 L592.78,591.82 L594.10,592.37 L595.43,592.91 L596.76,593.44 L598.09,593.96 L599.43,594.48 L600.77,594.98 L602.11,595.48 L603.45,595.97 L604.80,596.45 L606.15,596.92 L606.15,596.92 L609.66,597.89 L613.26,598.39 L616.89,598.42 L620.50,597.97 L624.02,597.07 L627.39,595.72 L630.56,593.94 L633.47,591.76 L636.08,589.23 L638.34,586.38 L640.21,583.26 L641.65,579.93 L642.66,576.44 L643.20,572.85 L643.28,569.21 L642.88,565.60 L642.88,565.60 L632.37,505.99 L631.97,504.14 L631.44,502.33 L630.78,500.55 L630.00,498.83 L629.09,497.18 L628.06,495.59 L626.92,494.08 L625.67,492.66 L624.33,491.33 L622.89,490.11 L621.36,488.99 L619.76,487.99Z M739.84,487.99 L738.24,488.99 L736.71,490.11 L735.27,491.33 L733.93,492.66 L732.68,494.08 L731.54,495.59 L730.51,497.18 L729.60,498.83 L728.82,500.55 L728.16,502.33 L727.63,504.14 L727.23,505.99 L716.72,565.60 L716.72,565.60 L716.32,569.21 L716.40,572.85 L716.94,576.44 L717.95,579.93 L719.39,583.26 L721.26,586.38 L723.52,589.23 L726.13,591.76 L729.04,593.94 L732.21,595.72 L735.58,597.07 L739.10,597.97 L742.71,598.42 L746.34,598.39 L749.94,597.89 L753.45,596.92 L753.45,596.92 L754.80,596.45 L756.15,595.97 L757.49,595.48 L758.83,594.98 L760.17,594.48 L761.51,593.96 L762.84,593.44 L764.17,592.91 L765.50,592.37 L766.82,591.82 L768.14,591.26 L769.45,590.69 L770.76,590.12 L772.07,589.54 L773.37,588.95 L774.67,588.35 L775.97,587.74 L777.26,587.13 L778.55,586.51 L779.84,585.87 L781.12,585.23 L782.39,584.59 L783.66,583.93 L784.93,583.27 L786.20,582.59 L787.46,581.91 L788.71,581.23 L789.96,580.53 L791.21,579.83 L792.45,579.12 L793.69,578.40 L794.92,577.67 L796.15,576.93 L797.37,576.19 L798.59,575.44 L799.80,574.68 L801.01,573.91 L802.22,573.14 L803.42,572.36 L804.61,571.57 L805.80,570.77 L806.98,569.97 L808.16,569.16 L809.34,568.34 L810.50,567.51 L811.67,566.68 L812.83,565.84 L813.98,564.99 L815.12,564.13 L816.27,563.27 L817.40,562.40 L818.53,561.52 L819.66,560.63 L820.78,559.74 L821.89,558.84 L823.00,557.94 L824.10,557.02 L825.20,556.10 L826.29,555.18 L827.37,554.24 L827.37,554.24 L829.96,551.69 L832.19,548.82 L834.03,545.69 L835.46,542.34 L836.43,538.84 L836.95,535.25 L836.99,531.61 L836.57,528.00 L835.68,524.48 L834.34,521.10 L832.57,517.92 L830.41,515.00 L827.89,512.38 L825.05,510.12 L821.94,508.24 L818.61,506.77 L818.61,506.77 L761.73,486.07 L759.93,485.49 L758.09,485.04 L756.23,484.73 L754.35,484.55 L752.46,484.51 L750.57,484.60 L748.69,484.84 L746.84,485.20 L745.02,485.71 L743.24,486.34 L741.51,487.10 L739.84,487.99Z" stroke="#0a0a0a" stroke-width="3.0" fill="none"/>
<circle cx="679.8" cy="384.0" r="72.8" stroke="#0a0a0a" stroke-width="3.1" fill="none"/>
<g stroke="#0a0a0a" stroke-width="2.8" fill="none">
<circle cx="679.80" cy="288.00" r="11.8"/>
<circle cx="631.80" cy="300.86" r="8.8"/>
<circle cx="596.66" cy="336.00" r="11.8"/>
<circle cx="583.80" cy="384.00" r="8.8"/>
<circle cx="596.66" cy="432.00" r="11.8"/>
<circle cx="631.80" cy="467.14" r="8.8"/>
<circle cx="679.80" cy="480.00" r="11.8"/>
<circle cx="727.80" cy="467.14" r="8.8"/>
<circle cx="762.94" cy="432.00" r="11.8"/>
<circle cx="775.80" cy="384.00" r="8.8"/>
<circle cx="762.94" cy="336.00" r="11.8"/>
<circle cx="727.80" cy="300.86" r="8.8"/>
</g>
<!-- logo -->
<g stroke="#2a2a2a" stroke-width="1.3" fill="none" stroke-linecap="round">
<path d="M664.7,163 A15,13 0 0 1 694.7,163"/>
<path d="M679.06,139.4L679.06,148.4 M670.6,145.3L673.4,149.7 M686.9,145.3L685,149.7 M662.5,146.9L668.1,152.5 M696.25,147.2L691.25,152.5 M660.3,155.9L665,158.1 M697.5,155.9L693.75,158.1"/>
<path d="M655,162.6 L703,163.8" stroke-width="1.5"/>
<path d="M674.5,170 Q679,167 684,170 M677,169 V177.5 Q676.5,180 674,180.5 M682.5,170 V177.5 Q683,180 685.5,180.5 M682.5,172 H686.5" stroke-width="1.4"/>
<ellipse cx="678.6" cy="169.6" rx="2.2" ry="1.6" fill="#2a2a2a" stroke="none"/>
</g>
<!-- red dims -->
<g stroke="#ec0c16" fill="none" stroke-width="2.8">
<path d="M775.80,384.00 L775.78,381.91 L775.71,379.81 L775.59,377.72 L775.43,375.63 L775.23,373.55 L774.98,371.47 L774.68,369.40 L774.34,367.33 L773.96,365.27 L773.52,363.22 L773.05,361.18 L772.53,359.15 L771.96,357.14 L771.36,355.13 L770.71,353.14 L770.01,351.17 L769.27,349.21 L768.49,347.26 L767.67,345.34 L766.81,343.43 L765.90,341.54 L764.95,339.67 L763.97,337.83 L762.94,336.00 L761.87,334.20 L760.77,332.42 L759.62,330.67 L758.44,328.94 L757.22,327.23 L755.96,325.56 L754.67,323.91 L753.34,322.29 L751.98,320.70 L750.58,319.14 L749.15,317.61 L747.68,316.12 L746.19,314.65 L744.66,313.22 L743.10,311.82 L741.51,310.46 L739.89,309.13 L738.24,307.84 L736.57,306.58 L734.86,305.36 L733.13,304.18 L731.38,303.03 L729.60,301.93 L727.80,300.86 L725.97,299.83 L724.13,298.85 L722.26,297.90 L720.37,296.99 L718.46,296.13 L716.54,295.31 L714.59,294.53 L712.63,293.79 L710.66,293.09 L708.67,292.44 L706.66,291.84 L704.65,291.27 L702.62,290.75 L700.58,290.28 L698.53,289.84 L696.47,289.46 L694.40,289.12 L692.33,288.82 L690.25,288.57 L688.17,288.37 L686.08,288.21 L683.99,288.09 L681.89,288.02 L679.80,288.00 L677.71,288.02 L675.61,288.09 L673.52,288.21 L671.43,288.37 L669.35,288.57 L667.27,288.82 L665.20,289.12 L663.13,289.46 L661.07,289.84 L659.02,290.28 L656.98,290.75 L654.95,291.27 L652.94,291.84 L650.93,292.44 L648.94,293.09 L646.97,293.79 L645.01,294.53 L643.06,295.31 L641.14,296.13 L639.23,296.99 L637.34,297.90 L635.47,298.85 L633.63,299.83 L631.80,300.86 L630.00,301.93 L628.22,303.03 L626.47,304.18 L624.74,305.36 L623.03,306.58 L621.36,307.84 L619.71,309.13 L618.09,310.46 L616.50,311.82 L614.94,313.22 L613.41,314.65 L611.92,316.12 L610.45,317.61 L609.02,319.14 L607.62,320.70 L606.26,322.29 L604.93,323.91 L603.64,325.56 L602.38,327.23 L601.16,328.94 L599.98,330.67 L598.83,332.42 L597.73,334.20 L596.66,336.00 L595.63,337.83 L594.65,339.67 L593.70,341.54 L592.79,343.43 L591.93,345.34 L591.11,347.26 L590.33,349.21 L589.59,351.17 L588.89,353.14 L588.24,355.13 L587.64,357.14 L587.07,359.15 L586.55,361.18 L586.08,363.22 L585.64,365.27 L585.26,367.33 L584.92,369.40 L584.62,371.47 L584.37,373.55 L584.17,375.63 L584.01,377.72 L583.89,379.81 L583.82,381.91 L583.80,384.00 L583.82,386.09 L583.89,388.19 L584.01,390.28 L584.17,392.37 L584.37,394.45 L584.62,396.53 L584.92,398.60 L585.26,400.67 L585.64,402.73 L586.08,404.78 L586.55,406.82 L587.07,408.85 L587.64,410.86 L588.24,412.87 L588.89,414.86 L589.59,416.83 L590.33,418.79 L591.11,420.74 L591.93,422.66 L592.79,424.57 L593.70,426.46 L594.65,428.33 L595.63,430.17 L596.66,432.00 L597.73,433.80 L598.83,435.58 L599.98,437.33 L601.16,439.06 L602.38,440.77 L603.64,442.44 L604.93,444.09 L606.26,445.71 L607.62,447.30 L609.02,448.86 L610.45,450.39 L611.92,451.88 L613.41,453.35 L614.94,454.78 L616.50,456.18 L618.09,457.54 L619.71,458.87 L621.36,460.16 L623.03,461.42 L624.74,462.64 L626.47,463.82 L628.22,464.97 L630.00,466.07 L631.80,467.14 L633.63,468.17 L635.47,469.15 L637.34,470.10 L639.23,471.01 L641.14,471.87 L643.06,472.69 L645.01,473.47 L646.97,474.21 M726.93,467.64 L728.76,466.58 L730.57,465.47 L732.36,464.33 L734.12,463.15 L735.85,461.94 L737.56,460.68 L739.24,459.39 L740.89,458.05 L742.51,456.69 L744.10,455.29 L745.66,453.85 L747.18,452.38 L748.68,450.87 L750.14,449.34 L751.56,447.77 L752.95,446.17 L754.31,444.54 L755.62,442.88 L756.91,441.19 L758.15,439.47 L759.35,437.73 L760.52,435.96 L761.65,434.17 L762.74,432.35 L763.78,430.51 L764.79,428.64 L765.75,426.75 L766.68,424.84 L767.56,422.92 L768.40,420.97 L769.19,419.00 L769.94,417.02 L770.65,415.02 L771.31,413.01 L771.93,410.98 L772.50,408.94 L773.03,406.89 L773.51,404.83 L773.95,402.75 L774.34,400.67"/>
<path d="M270.6,310.6H332.2 M270.6,457.1H332.2 M324.8,310.6V330 M324.8,437V457.1"/>
<path d="M640,239.6H667.6 M691.6,239.6H783.6 M667.6,231V288 M691.6,231V288"/>
<path d="M547.2,293V374.5 M547.2,393.8V422 M539,374.5H584 M539,393.8H584"/>
<path d="M587.2,406.6L619.5,398.6 M737,371L773,360.8"/>
</g>
<g fill="#ec0c16" stroke="none">
<path d="M323.60,311.50 L321.40,320.50 L324.80,331.50 L328.20,320.50 L326.00,311.50Z"/>
<path d="M326.00,456.20 L328.20,447.20 L324.80,436.20 L321.40,447.20 L323.60,456.20Z"/>
<path d="M668.00,238.40 L661.25,236.20 L653.00,239.60 L661.25,243.00 L668.00,240.80Z"/>
<path d="M691.20,240.80 L697.95,243.00 L706.20,239.60 L697.95,236.20 L691.20,238.40Z"/>
<path d="M548.40,374.00 L550.60,366.80 L547.20,358.00 L543.80,366.80 L546.00,374.00Z"/>
<path d="M546.00,394.30 L543.80,401.50 L547.20,410.30 L550.60,401.50 L548.40,394.30Z"/>
<path d="M587.89,407.67 L595.40,408.08 L603.13,402.67 L593.78,401.48 L587.31,405.33Z"/>
<path d="M772.31,359.73 L764.80,359.32 L757.07,364.73 L766.42,365.92 L772.89,362.07Z"/>
</g>
<g fill="#ec0c16" stroke="#ec0c16" stroke-width="0.35" font-family="Liberation Sans">
<text transform="translate(336.8,431) rotate(-90) scale(0.868,1)" font-size="51.6">62</text>
<text transform="translate(334.5,379.6) rotate(-90) scale(0.84,1)" font-size="34">mm</text>
<text transform="translate(540.2,334.7) rotate(-90) scale(0.80,1)" font-size="38.5">8.5</text>
<text transform="translate(728,234.4) scale(0.74,1)" font-size="38" font-style="italic">10.5</text>
<text transform="translate(634.5,409.5) rotate(-14.5) scale(0.79,1)" font-size="47" font-style="italic">80</text>
<text transform="translate(681,393) rotate(-14.5) scale(0.81,1)" font-size="34" font-style="italic">mm</text>
</g>
</svg>
</body></html>
